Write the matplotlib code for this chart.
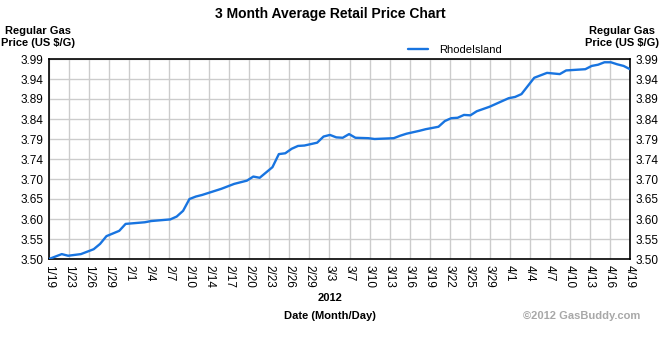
import numpy as np
import matplotlib
matplotlib.use("Agg")
import matplotlib.pyplot as plt

plt.rcParams['font.family'] = ['Liberation Sans', 'DejaVu Sans']

# days after 1/19/2012 and average price (US $/G)
days = [0, 2, 3, 5, 7, 8, 9, 11, 12, 15, 16, 19, 20, 21, 22, 23, 24, 27, 29, 31,
        32, 33, 35, 36, 37, 38, 39, 40, 42, 43, 44, 45, 46, 47, 48, 50, 51, 54, 55,
        56, 58, 59, 61, 62, 63, 64, 65, 66, 67, 69, 71, 72, 73, 74, 76, 78, 80, 81,
        83, 84, 85, 86, 87, 88, 89, 90, 91]
prices = [3.500, 3.512, 3.508, 3.512, 3.524, 3.537, 3.556, 3.569, 3.586, 3.590,
          3.593, 3.597, 3.604, 3.618, 3.647, 3.653, 3.657, 3.672, 3.684, 3.692,
          3.702, 3.699, 3.725, 3.757, 3.759, 3.770, 3.777, 3.778, 3.785, 3.800,
          3.804, 3.798, 3.797, 3.806, 3.797, 3.796, 3.794, 3.796, 3.802, 3.807,
          3.814, 3.818, 3.824, 3.838, 3.845, 3.846, 3.853, 3.852, 3.862, 3.873,
          3.887, 3.894, 3.897, 3.904, 3.944, 3.956, 3.953, 3.962, 3.964, 3.965,
          3.973, 3.976, 3.982, 3.982, 3.977, 3.973, 3.965]

date_labels = ['1/19', '1/23', '1/26', '1/29', '2/1', '2/4', '2/7', '2/10', '2/14',
               '2/17', '2/20', '2/23', '2/26', '2/29', '3/3', '3/7', '3/10', '3/13',
               '3/16', '3/19', '3/22', '3/25', '3/29', '4/1', '4/4', '4/7', '4/10',
               '4/13', '4/16', '4/19']
price_labels = ['3.50', '3.55', '3.60', '3.65', '3.70', '3.74', '3.79', '3.84',
                '3.89', '3.94', '3.99']

total_days = 91
y_min, y_max = 3.50, 3.99

fig = plt.figure(figsize=(6.6, 3.4), dpi=100)
ax = fig.add_axes([49/660, 81/340, 581/660, 200/340])

ax.plot(days, prices, color='#1874e0', lw=1.7, label='RhodeIsland',
        solid_capstyle='round', zorder=3)

xt = np.linspace(0, total_days, len(date_labels))
yt = np.linspace(y_min, y_max, len(price_labels))
ax.set_xlim(0, total_days)
ax.set_ylim(y_min, y_max)
ax.set_xticks(xt)
ax.set_xticklabels(date_labels, rotation=-90, fontsize=8.5)
ax.set_yticks(yt)
ax.set_yticklabels(price_labels, fontsize=8.5)
ax.tick_params(axis='both', length=0, pad=4)
ax.tick_params(axis='y', labelright=True)
ax.grid(True, color='#cccccc', lw=1)
for s in ax.spines.values():
    s.set_color('black')
    s.set_linewidth(1.2)

fig.text(0.5, 1 - 14/340, '3 Month Average Retail Price Chart', ha='center',
         va='center', fontsize=10, fontweight='bold')
fig.text(38/660, 1 - 37/340, 'Regular Gas\nPrice (US $/G)', ha='center',
         va='center', fontsize=8, fontweight='bold', linespacing=1.35)
fig.text(622/660, 1 - 37/340, 'Regular Gas\nPrice (US $/G)', ha='center',
         va='center', fontsize=8, fontweight='bold', linespacing=1.35)
fig.legend(loc='center', bbox_to_anchor=(455/660, 1 - 50/340), frameon=False,
           fontsize=8, handlelength=1.8, handletextpad=1.0)
fig.text(0.5, 1 - 298/340, '2012', ha='center', va='center', fontsize=8,
         fontweight='bold')
fig.text(0.5, 1 - 316/340, 'Date (Month/Day)', ha='center', va='center',
         fontsize=8, fontweight='bold')
fig.text(640/660, 1 - 316/340, '\u00a92012 GasBuddy.com', ha='right', va='center',
         fontsize=8, fontweight='bold', color='#a8a8a8')

fig.savefig('out.png', dpi=100)
